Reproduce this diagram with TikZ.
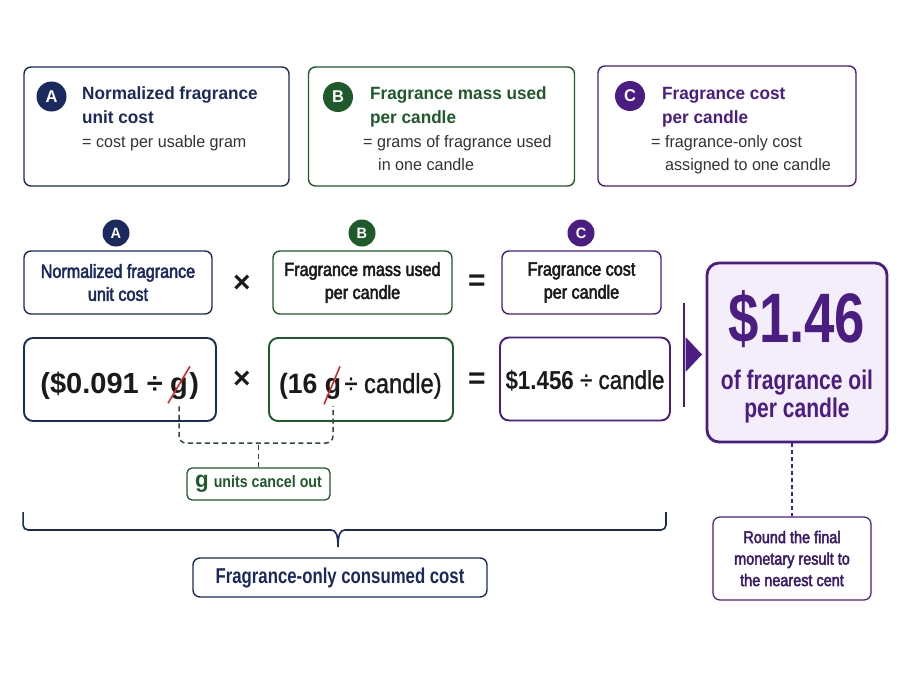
\documentclass[tikz,border=0pt]{standalone}
\usepackage{fontspec}
\setmainfont{Liberation Sans}
\newfontfamily\fw{Liberation Sans}[FakeStretch=0.97]
\newfontfamily\fv{Liberation Sans}[FakeStretch=0.95]
\newfontfamily\fn{Liberation Sans}[FakeStretch=0.86]
\newfontfamily\fnm{Liberation Sans}[FakeStretch=0.85, FakeBold=2.6]
\newfontfamily\fnl{Liberation Sans}[FakeStretch=0.86, FakeBold=1.2]
\newfontfamily\fnn{Liberation Sans}[FakeStretch=0.78]
\newcommand\myfs[2][]{\fontsize{#2}{#2}\selectfont}
\usetikzlibrary{calc}
\definecolor{navy}{HTML}{1B2A5E}
\definecolor{grn}{HTML}{1E5A2A}
\definecolor{purp}{HTML}{4B1D82}
\definecolor{dpurp}{HTML}{3A1A6A}
\definecolor{lav}{HTML}{F4EEFB}
\definecolor{txtgray}{HTML}{333333}
\definecolor{ink}{HTML}{1A1A1A}
\definecolor{strike}{HTML}{D42A2A}
\definecolor{dashg}{HTML}{2E4A33}
\tikzset{
  frame/.style={draw, rounded corners=7pt, line width=1.4pt, inner sep=0pt},
  valbox/.style={frame, rounded corners=9pt, line width=1.9pt, minimum height=83pt},
  badge/.style={circle, inner sep=0pt, minimum size=30pt, text=white, font=\fw\bfseries\myfs{17}},
  sbadge/.style={badge, minimum size=27pt, font=\fw\bfseries\myfs{15}},
  ttl/.style={anchor=base west, inner sep=0pt, font=\fw\bfseries\myfs{17.7}},
  sub/.style={anchor=base west, inner sep=0pt, text=txtgray, font=\fw\myfs{16.6}},
  lbl/.style={frame, minimum height=63pt, align=center, font=\fnm\fontsize{19}{23}\selectfont},
  val/.style={inner sep=0pt, text=ink, font=\bfseries\myfs{29}},
  op/.style={inner sep=0pt, text=ink, font=\bfseries\myfs{30}},
  gline/.style={dashg, line width=1.5pt, dash pattern=on 5pt off 3.5pt, rounded corners=7pt},
}
\begin{document}
\begin{tikzpicture}[x=1pt,y=-1pt]
\useasboundingbox[fill=white] (0,0) rectangle (900,675);

% ---- top legend boxes
\node[frame, draw=navy, minimum width=265pt, minimum height=119pt] (topA) at (156.5,126.5) {};
\node[frame, draw=grn, minimum width=266pt, minimum height=119pt] (topB) at (441.5,126.5) {};
\node[frame, draw=purp, minimum width=258pt, minimum height=120pt] (topC) at (727,126) {};

\node[badge, fill=navy] (bA) at (51.5,96.5) {A};
\node[ttl, text=navy] (tA1) at (82,99.3) {Normalized fragrance};
\node[ttl, text=navy] (tA2) at (82,123) {unit cost};
\node[sub] (sA1) at (82,147.5) {= cost per usable gram};

\node[badge, fill=grn] (bB) at (338,97) {B};
\node[ttl, text=grn] (tB1) at (370,99.3) {Fragrance mass used};
\node[ttl, text=grn] (tB2) at (370,123) {per candle};
\node[sub] (sB1) at (363,147.5) {= grams of fragrance used};
\node[sub] (sB2) at (378,170) {in one candle};

\node[badge, fill=purp] (bC) at (630,96) {C};
\node[ttl, text=purp] (tC1) at (662,99.3) {Fragrance cost};
\node[ttl, text=purp] (tC2) at (662,123) {per candle};
\node[sub] (sC1) at (651,147.5) {= fragrance-only cost};
\node[sub] (sC2) at (665,170) {assigned to one candle};

% ---- label row
\node[sbadge, fill=navy] (mA) at (116,233) {A};
\node[sbadge, fill=grn] (mB) at (362,233) {B};
\node[sbadge, fill=purp] (mC) at (581,233) {C};

\node[lbl, draw=navy, text=navy, minimum width=188pt] (lA) at (118,282.5) {Normalized fragrance\\unit cost};
\node[lbl, draw=grn, text=ink, minimum width=179pt] (lB) at (362.5,282.5) {Fragrance mass used\\per candle};
\node[lbl, draw=purp, text=ink, minimum width=159pt] (lC) at (581.5,282.5) {Fragrance cost\\per candle};
\node[op] (x1) at (242,284) {×};
\node[op] (e1) at (477,283) {=};

% ---- value row
\node[valbox, draw=navy, minimum width=192pt] (vA) at (120,379.5) {};
\node[valbox, draw=grn, minimum width=184pt] (vB) at (361,379.5) {};
\node[valbox, draw=purp, minimum width=170pt] (vC) at (585,379) {};

\node[val, anchor=base] (gA) at (179,393) {g};
\node[val, anchor=base east] (vA1) at ([xshift=-7pt]gA.base west) {(\$0.091 ÷};
\node[val, anchor=base west] (vA2) at ([xshift=1pt]gA.base east) {)};

\node[val, font=\fv\bfseries\myfs{28}, anchor=base] (gB) at (333,393) {g};
\node[val, font=\fv\bfseries\myfs{28}, anchor=base east] (vB1) at ([xshift=-7pt]gB.base west) {(16};
\node[val, font=\fnl\myfs{27.5}, anchor=base west] (vB2) at ([xshift=3pt]gB.base east) {÷ candle)};

\node[val, font=\fnl\myfs{26}, anchor=base] (vC1) at (585,389) {{\fn\bfseries\$1.456} ÷ candle};

\draw[strike, line width=1.6pt] ($(gA.center)+(-11,15)$) -- ($(gA.center)+(11,-22)$);
\draw[strike, line width=1.6pt] ($(gB.center)+(-9,16)$) -- ($(gB.center)+(7,-22)$);

\node[op] (x2) at (242,380) {×};
\node[op] (e2) at (477,381) {=};

% ---- cancel connector
\node[frame, draw=grn, line width=1.3pt, rounded corners=5pt, minimum width=143pt, minimum height=32pt, text=grn, font=\fn\bfseries\myfs{16.5}] (gu) at (258.5,484) {{\fw\bfseries\myfs{23}g}\hspace{5pt}units cancel out};
\draw[gline] ([yshift=-7pt]gA.south) -- (gA.south |- 0,443) -- (gB.south |- 0,443) -- ([yshift=-7pt]gB.south);
\draw[gline, rounded corners=0pt] (gu.north) -- (gu.north |- 0,443);

% ---- result
\draw[purp, line width=1.8pt] (684,303) -- (684,407);
\fill[purp] (685.5,337) -- (702,354.5) -- (685.5,372) -- cycle;
\node[frame, draw=purp, fill=lav, line width=2.8pt, rounded corners=12pt, minimum width=180pt, minimum height=179pt] (res) at (797,352.5) {};
\node[inner sep=0pt, anchor=base, text=purp, font=\fnn\bfseries\myfs{70}] (big) at (797,342) {\$1.46};
\node[inner sep=0pt, anchor=base, text=purp, font=\fnn\bfseries\myfs{27}] (r1) at (797,389) {of fragrance oil};
\node[inner sep=0pt, anchor=base, text=purp, font=\fnn\bfseries\myfs{27}] (r2) at (797,417) {per candle};

\node[frame, draw=purp, line width=1.2pt, minimum width=158pt, minimum height=83pt, align=center, text=dpurp, font=\fnm\fontsize{17}{21.5}\selectfont] (round) at (792,558.5) {Round the final\\monetary result to\\the nearest cent};
\draw[purp, line width=1.4pt, dash pattern=on 4pt off 3pt] (res.south -| round.north) -- (round.north);

% ---- brace and total
\draw[navy, line width=1.6pt, rounded corners=5pt] (vA.west |- 0,512) -- (vA.west |- 0,530) -- (331,530);
\draw[navy, line width=1.6pt] (331,530) .. controls (336,530) and (338,535) .. (338,547) .. controls (338,535) and (340,530) .. (345,530);
\draw[navy, line width=1.6pt, rounded corners=5pt] (345,530) -- (666,530) -- (666,512);
\node[frame, draw=navy, minimum width=294pt, minimum height=39pt, text=navy, font=\fnn\bfseries\myfs{21.5}] (fc) at (340,577.5) {Fragrance-only consumed cost};
\end{tikzpicture}
\end{document}
